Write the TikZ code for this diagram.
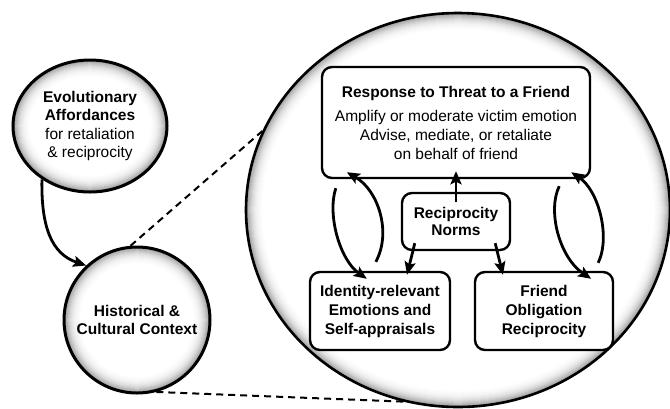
\documentclass[tikz,border=0pt]{standalone}
\usepackage{fontspec}
\setmainfont{Liberation Sans}
\usetikzlibrary{arrows.meta,calc,shapes.geometric}
\begin{document}
\begin{tikzpicture}[x=1pt,y=-1pt,
  rim/.style n args={2}{path picture={
    \foreach \k/\c in {1/40,2/34,3/29,4/25,5/21,6/17,7/14,8/11,9/9,10/7,11/5,12/4,13/3,14/2,15/1}
      {\draw[line width=1.4pt, black!\c] (path picture bounding box.center) ellipse [x radius=#1-\k, y radius=#2-\k];}}},
  bubble/.style={ellipse, draw, line width=3pt, fill=white, align=center, inner sep=0pt, font=\fontsize{15.5}{18.5}\selectfont},
  box/.style={rectangle, rounded corners=10pt, draw, line width=2.4pt, fill=white, align=center, inner sep=0pt, font=\fontsize{15.5}{19}\selectfont},
  arr/.style={line width=2.8pt, -{Stealth[length=13pt,width=11pt,inset=2.5pt]}},
  dsh/.style={line width=2pt, dash pattern=on 7pt off 5pt}
]
\useasboundingbox (0,0) rectangle (670,408);
% big circle
\node[bubble, line width=2.6pt, minimum width=424pt, minimum height=394pt, rim={212}{197}] (big) at (458,210) {};
% small circles
\node[bubble, inner xsep=-10pt, minimum width=154pt, minimum height=132pt, rim={77}{66}] (evo) at (90,126)
  {\textbf{Evolutionary}\\ \textbf{Affordances}\\ for retaliation\\ \& reciprocity};
\node[bubble, inner xsep=-20pt, minimum width=146pt, minimum height=146pt, rim={73}{73}] (hist) at (137,320)
  {\textbf{Historical \&}\\ \textbf{Cultural Context}};
% dashed connectors
\draw[dsh] (hist.95) -- (big.158.3);
\draw[dsh] (hist.285) -- (big.254.3);
% evo -> hist
\draw[arr] (evo.228) .. controls (41,228) and (52,254) .. (hist.133);
% boxes
\node[box, minimum width=268pt, minimum height=111pt] (resp) at (456,122.5)
  {\textbf{Response to Threat to a Friend}\\[5pt]
   Amplify or moderate victim emotion\\
   Advise, mediate, or retaliate\\
   on behalf of friend};
\node[box, minimum width=108pt, minimum height=57pt, font=\fontsize{15.5}{17}\selectfont] (rn) at (456,221.5)
  {\textbf{Reciprocity}\\ \textbf{Norms}};
\node[box, minimum width=140pt, minimum height=78pt] (iden) at (380,311)
  {\textbf{Identity-relevant}\\ \textbf{Emotions and}\\ \textbf{Self-appraisals}};
\node[box, minimum width=138pt, minimum height=78pt] (friend) at (544,311)
  {\textbf{Friend}\\ \textbf{Obligation}\\ \textbf{Reciprocity}};
% center arrows
\draw[arr] ($(rn.north)+(0,10)$) -- ($(rn.north |- resp.south)+(0,-8)$);
\draw[arr] ($(rn.south west)+(14,-8)$) -- ($(iden.north)+(27,4)$);
\draw[arr] ($(rn.south east)+(-16,-8)$) -- ($(friend.north)+(-41,4)$);
% left pair
\draw[arr] ($(resp.south west)+(15,9)$) .. controls (327,215) and (340,260) .. ($(iden.north west)+(58,8)$);
\draw[arr] ($(iden.north west)+(67,-9)$) .. controls (392,232) and (378,190) .. ($(resp.south west)+(26,-7)$);
% right pair
\draw[arr] ($(resp.south east)+(-32,7)$) .. controls (547,212) and (560,258) .. ($(friend.north east)+(-23,8)$);
\draw[arr] ($(friend.north east)+(-16,-8)$) .. controls (611,236) and (598,190) .. ($(resp.south east)+(-20,-7)$);
\end{tikzpicture}
\end{document}
